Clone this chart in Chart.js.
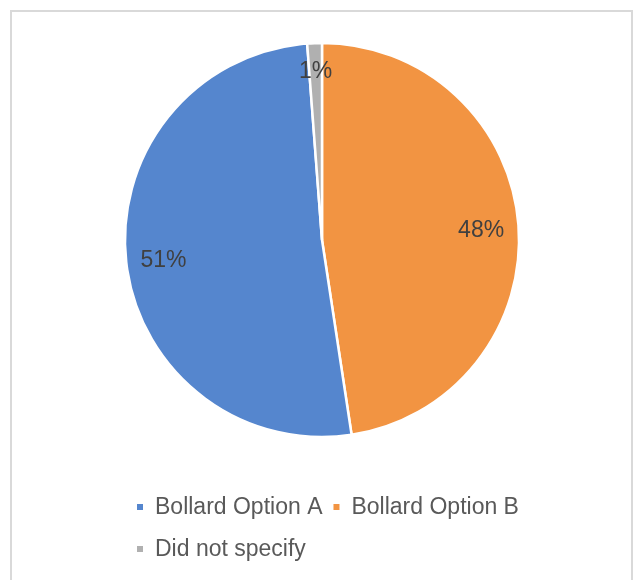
<!DOCTYPE html>
<html>
<head>
<meta charset="utf-8">
<script src="https://cdn.jsdelivr.net/npm/chart.js@4.4.0/dist/chart.umd.min.js"></script>
<style>
  html, body { margin: 0; padding: 0; background: #ffffff; }
  #wrap { position: relative; width: 634px; height: 580px; }
</style>
</head>
<body>
<div id="wrap"><canvas id="pieChart" width="634" height="580"></canvas></div>
<script>
// legend order
const categories = ['Bollard Option A', 'Bollard Option B', 'Did not specify'];
const shares = [51.2, 47.6, 1.2];
const sliceColors = ['#5586ce', '#f29442', '#b0b0b0'];
// slices go clockwise from 12 o'clock starting with B
const pieOrder = [1, 0, 2];

const fontFace = '"Liberation Sans", Arial, sans-serif';

const pieExtras = {
  id: 'pieExtras',
  beforeDraw(chart) {
    const ctx = chart.ctx;
    ctx.save();
    ctx.strokeStyle = '#d9d9d9';
    ctx.lineWidth = 2;
    ctx.strokeRect(11, 11, 621, 600);
    ctx.restore();
  },
  afterDatasetsDraw(chart) {
    const ctx = chart.ctx;
    const meta = chart.getDatasetMeta(0);
    const vals = chart.data.datasets[0].data;
    ctx.save();

    // percent labels inside slices
    ctx.font = '23px ' + fontFace;
    ctx.fillStyle = '#404040';
    ctx.textAlign = 'center';
    ctx.textBaseline = 'middle';
    meta.data.forEach((arc, i) => {
      const mid = (arc.startAngle + arc.endAngle) / 2;
      const r = arc.outerRadius * (vals[i] < 5 ? 0.87 : 0.81);
      ctx.fillText(Math.round(vals[i]) + '%', arc.x + Math.cos(mid) * r, arc.y + Math.sin(mid) * r + 3);
    });

    // legend, excel style: small squares, rows left aligned
    const legendLeft = 137, legendRight = 530;
    let x = legendLeft, y = 508;
    ctx.textAlign = 'left';
    categories.forEach((name, i) => {
      const w = 6 + 12 + ctx.measureText(name).width;
      if (x > legendLeft && x + w > legendRight) {
        x = legendLeft;
        y += 42;
      }
      ctx.fillStyle = sliceColors[i];
      ctx.fillRect(x, y - 4, 6, 6);
      ctx.fillStyle = '#595959';
      ctx.fillText(name, x + 18, y);
      x += w + 11;
    });
    ctx.restore();
  }
};

new Chart(document.getElementById('pieChart'), {
  type: 'pie',
  data: {
    labels: pieOrder.map(i => categories[i]),
    datasets: [{
      data: pieOrder.map(i => shares[i]),
      backgroundColor: pieOrder.map(i => sliceColors[i]),
      borderColor: '#ffffff',
      borderWidth: 2.5,
      hoverOffset: 0
    }]
  },
  options: {
    responsive: false,
    animation: false,
    radius: 197,
    layout: { padding: { left: 126, right: 116, top: 44, bottom: 144 } },
    plugins: {
      legend: { display: false },
      tooltip: { enabled: false }
    }
  },
  plugins: [pieExtras]
});
</script>
</body>
</html>
